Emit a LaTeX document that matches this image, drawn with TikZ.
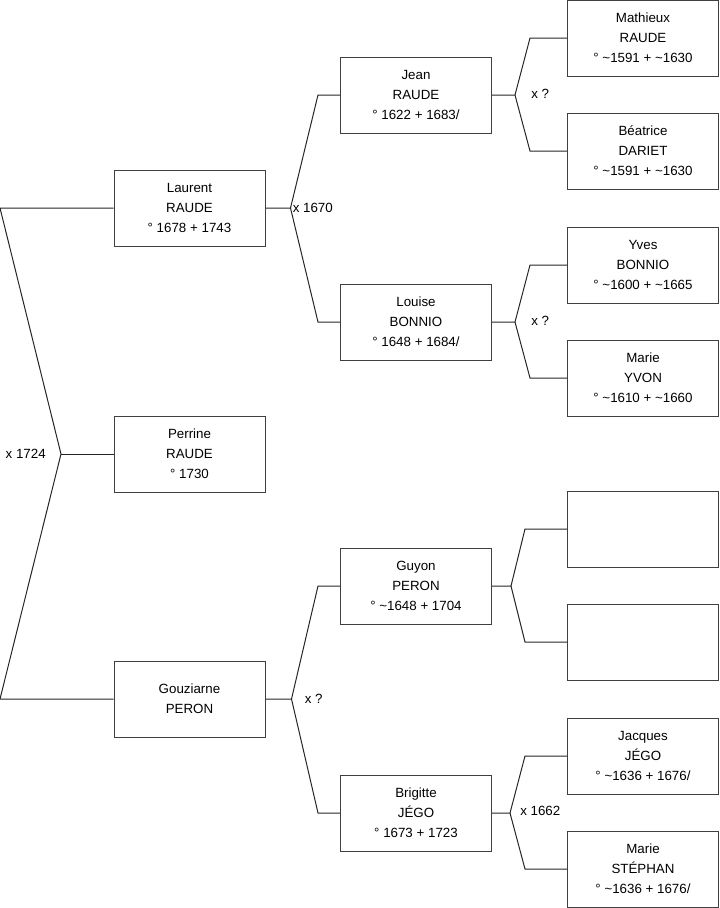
\documentclass[tikz,border=0pt]{standalone}
\usepackage{fontspec}
\setmainfont{Liberation Sans}
\usetikzlibrary{positioning,calc}

\begin{document}
\begin{tikzpicture}[x=0.75pt, y=-0.75pt,
    person/.style={draw=black!75, line width=0.75pt, minimum width=113.25pt,
      minimum height=57pt, inner sep=0pt, align=center,
      font=\fontsize{10}{15}\selectfont},
    link/.style={black!85, line width=0.75pt},
    wedding/.style={inner sep=0pt, font=\fontsize{10}{12}\selectfont}]

  \useasboundingbox (0,0) rectangle (719,908);

  % Children
  \node[person] (laurent) at (189.5,208) {Laurent\\RAUDE\\° 1678 + 1743};
  \node[person] (perrine) at (189.5,454) {Perrine\\RAUDE\\° 1730};
  \node[person] (gouziarne) at (189.5,699) {Gouziarne\\PERON};

  % Parents
  \node[person] (jean) at (416,95) {Jean\\RAUDE\\° 1622 + 1683/};
  \node[person] (louise) at (416,322) {Louise\\BONNIO\\° 1648 + 1684/};
  \node[person] (guyon) at (416,586) {Guyon\\PERON\\° \textasciitilde1648 + 1704};
  \node[person] (brigitte) at (416,813) {Brigitte\\JÉGO\\° 1673 + 1723};

  % Grandparents
  \node[person] (mathieux) at (643,38) {Mathieux\\RAUDE\\° \textasciitilde1591 + \textasciitilde1630};
  \node[person] (beatrice) at (643,151) {Béatrice\\DARIET\\° \textasciitilde1591 + \textasciitilde1630};
  \node[person] (yves) at (643,265) {Yves\\BONNIO\\° \textasciitilde1600 + \textasciitilde1665};
  \node[person] (marieyvon) at (643,378) {Marie\\YVON\\° \textasciitilde1610 + \textasciitilde1660};
  \node[person] (unknownA) at (643,529) {};
  \node[person] (unknownB) at (643,642) {};
  \node[person] (jacques) at (643,756) {Jacques\\JÉGO\\° \textasciitilde1636 + 1676/};
  \node[person] (mariestephan) at (643,869) {Marie\\STÉPHAN\\° \textasciitilde1636 + 1676/};

  % Root fork
  \coordinate (rootA) at (0,208);
  \coordinate (rootB) at (0,699);
  \coordinate (rootfork) at (61,454);
  \draw[link] (laurent.west) -- (rootA) -- (rootfork) -- (rootB) -- (gouziarne.west);
  \draw[link] (rootfork) -- (perrine.west);
  \node[wedding, anchor=east] (w1724) at ($(rootfork)+(-15,0)$) {x 1724};

  % Laurent
  \coordinate (forklaurent) at ($(laurent.east)+(25,0)$);
  \draw[link] (laurent.east) -- (forklaurent)
    -- ($(jean.west)+(-22,0)$) -- (jean.west);
  \draw[link] (forklaurent) -- ($(louise.west)+(-22,0)$) -- (louise.west);
  \node[wedding, anchor=west] (w1670) at ($(forklaurent)+(2,0)$) {x 1670};

  % Gouziarne
  \coordinate (forkgouziarne) at ($(gouziarne.east)+(26,0)$);
  \draw[link] (gouziarne.east) -- (forkgouziarne)
    -- ($(guyon.west)+(-22,0)$) -- (guyon.west);
  \draw[link] (forkgouziarne) -- ($(brigitte.west)+(-22,0)$) -- (brigitte.west);
  \node[wedding, anchor=west] (wgouziarne) at ($(forkgouziarne)+(13,0)$) {x ?};

  % Jean
  \coordinate (forkjean) at ($(jean.east)+(23,0)$);
  \draw[link] (jean.east) -- (forkjean)
    -- ($(mathieux.west)+(-37,0)$) -- (mathieux.west);
  \draw[link] (forkjean) -- ($(beatrice.west)+(-37,0)$) -- (beatrice.west);
  \node[wedding, anchor=west] (wjean) at ($(forkjean)+(16,-1)$) {x ?};

  % Louise
  \coordinate (forklouise) at ($(louise.east)+(23,0)$);
  \draw[link] (louise.east) -- (forklouise)
    -- ($(yves.west)+(-37,0)$) -- (yves.west);
  \draw[link] (forklouise) -- ($(marieyvon.west)+(-37,0)$) -- (marieyvon.west);
  \node[wedding, anchor=west] (wlouise) at ($(forklouise)+(16,-1)$) {x ?};

  % Guyon
  \coordinate (forkguyon) at ($(guyon.east)+(19,0)$);
  \draw[link] (guyon.east) -- (forkguyon)
    -- ($(unknownA.west)+(-42,0)$) -- (unknownA.west);
  \draw[link] (forkguyon) -- ($(unknownB.west)+(-42,0)$) -- (unknownB.west);

  % Brigitte
  \coordinate (forkbrigitte) at ($(brigitte.east)+(18,0)$);
  \draw[link] (brigitte.east) -- (forkbrigitte)
    -- ($(jacques.west)+(-42,0)$) -- (jacques.west);
  \draw[link] (forkbrigitte) -- ($(mariestephan.west)+(-42,0)$) -- (mariestephan.west);
  \node[wedding, anchor=west] (w1662) at ($(forkbrigitte)+(10,-2)$) {x 1662};
\end{tikzpicture}
\end{document}
